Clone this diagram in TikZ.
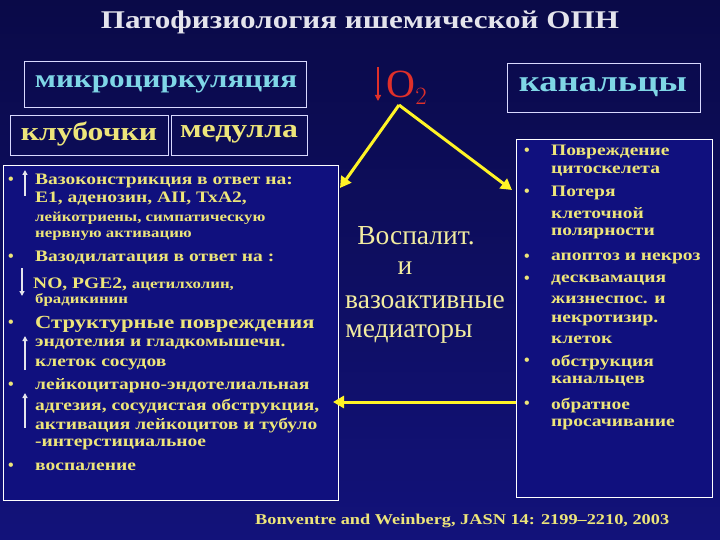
\documentclass[tikz,border=0pt]{standalone}
\usepackage{fontspec}
\setmainfont{Liberation Serif}[FakeStretch=1.22]
\newfontfamily\plainf{Liberation Serif}
\usetikzlibrary{arrows.meta}
\definecolor{bgA}{HTML}{0A0A48}
\definecolor{bgB}{HTML}{12127A}
\definecolor{boxfill}{HTML}{10107E}
\definecolor{ytxt}{HTML}{EDE57A}
\definecolor{ctxt}{HTML}{7FD6E6}
\definecolor{lyel}{HTML}{F2ECA0}
\definecolor{o2red}{HTML}{E0302A}
\definecolor{ttl}{HTML}{E4E4EC}
\tikzset{
  hdr/.style={draw=white!85!blue, line width=0.8pt, inner sep=0pt},
  bigbox/.style={draw=white, line width=0.9pt, fill=boxfill},
  ln/.style={anchor=west, inner sep=0pt, text=ytxt, font=\bfseries\fontsize{16}{16}\selectfont},
  lns/.style={ln, font=\bfseries\fontsize{13.8}{14}\selectfont},
  bul/.style={anchor=center, inner sep=0pt, text=ytxt, font=\plainf\bfseries\fontsize{16}{16}\selectfont},
  mid/.style={text=lyel, font=\plainf\fontsize{27.5}{27}\selectfont, inner sep=0pt},
  conn/.style={draw=yellow!85!white, line width=3pt, -{Triangle[length=11pt,width=12pt]}},
  upar/.style={draw=ttl, line width=1.2pt, -{Triangle[length=5pt,width=5pt]}}
}
\begin{document}
\begin{tikzpicture}[x=1pt,y=-1pt]
\shade[top color=bgA, bottom color=bgB] (0,0) rectangle (720,540);
\useasboundingbox (0,0) rectangle (720,540);
% title
\node[text=ttl, font=\bfseries\fontsize{25.5}{26}\selectfont] (title) at (360,22) {Патофизиология ишемической ОПН};
% header boxes
\draw[hdr] (24,61) rectangle (306,107);
\node[text=ctxt, font=\bfseries\fontsize{25.5}{26}\selectfont] (micro) at (166,84) {микроциркуляция};
\draw[hdr] (10,115) rectangle (168,155);
\node[text=ytxt, font=\bfseries\fontsize{26}{26}\selectfont] (glom) at (89,134) {клубочки};
\draw[hdr] (171,115) rectangle (307,155);
\node[text=ytxt, font=\bfseries\fontsize{26}{26}\selectfont] (med) at (239,134) {медулла};
\draw[hdr] (507,63) rectangle (700,112);
\node[text=ctxt, font=\bfseries\fontsize{30}{30}\selectfont] (kan) at (603,87) {канальцы};
% O2
\node[text=o2red, font=\plainf\fontsize{40}{40}\selectfont, inner sep=0pt] (o2) at (407,88) {O$_2$};
\coordinate (o2a) at (378,67);
\coordinate (o2b) at (378,101);
\draw[draw=o2red, line width=1.3pt, -{Triangle[length=6pt,width=6pt]}] (o2a) -- (o2b);
% big boxes
\draw[bigbox] (3,165) rectangle (338,500);
\draw[bigbox] (516,139) rectangle (712,497);
% connectors
\coordinate (apex) at (399,105);
\coordinate (lt) at (340,188);
\coordinate (rt) at (512,190);
\coordinate (rs) at (516,402);
\coordinate (le) at (333,402);
\draw[conn] (apex) -- (lt);
\draw[conn] (apex) -- (rt);
\draw[conn] (rs) -- (le);
% middle text
\node[mid] (m1) at (416,236) {Воспалит.};
\node[mid] (m2) at (405,268) {и};
\node[mid] (m3) at (425,302) {вазоактивные};
\node[mid] (m4) at (409,334) {медиаторы};
% left box
\node[bul] (b1) at (11,181) {•};
\node[bul] (b2) at (11,258) {•};
\node[bul] (b3) at (11,324) {•};
\node[bul] (b4) at (11,386) {•};
\node[bul] (b5) at (11,467) {•};
\draw[upar] (25,196) -- (25,170);
\draw[upar] (22,268) -- (22,296);
\draw[upar] (25,370) -- (25,336);
\draw[upar] (25,428) -- (25,393);
\node[ln] (l1) at (35,181) {Вазоконстрикция в ответ на:};
\node[ln] (l2) at (35,199) {Е1, аденозин, АII, ТхА2,};
\node[lns] (l3) at (35,218) {лейкотриены, симпатическую};
\node[lns] (l4) at (35,236) {нервную активацию};
\node[ln] (l5) at (35,258) {Вазодилатация в ответ на :};
\node[ln] (l6) at (33,284) {NO, PGE2, {\fontsize{13.8}{14}\selectfont ацетилхолин,}};
\node[lns] (l7) at (35,300) {брадикинин};
\node[ln, font=\bfseries\fontsize{18.5}{19}\selectfont] (l8) at (35,324) {Структурные повреждения};
\node[ln] (l9) at (35,344) {эндотелия и гладкомышечн.};
\node[ln] (l10) at (35,364) {клеток сосудов};
\node[ln] (l11) at (35,386) {лейкоцитарно-эндотелиальная};
\node[ln] (l12) at (35,406) {адгезия, сосудистая обструкция,};
\node[ln] (l13) at (35,425) {активация лейкоцитов и тубуло};
\node[ln] (l14) at (35,444) {-интерстициальное};
\node[ln] (l15) at (35,467) {воспаление};
% right box
\node[bul] (r1) at (527,152) {•};
\node[bul] (r2) at (527,193) {•};
\node[bul] (r3) at (527,258) {•};
\node[bul] (r4) at (527,280) {•};
\node[bul] (r5) at (527,362) {•};
\node[bul] (r6) at (527,405) {•};
\node[ln] (t1) at (551,152) {Повреждение};
\node[ln] (t2) at (551,171) {цитоскелета};
\node[ln] (t3) at (551,193) {Потеря};
\node[ln] (t4) at (551,213) {клеточной};
\node[ln] (t5) at (551,233) {полярности};
\node[ln] (t6) at (551,258) {апоптоз и некроз};
\node[ln] (t7) at (551,280) {десквамация};
\node[ln] (t8) at (551,300) {жизнеспос. и};
\node[ln] (t9) at (551,320) {некротизир.};
\node[ln] (t10) at (551,340) {клеток};
\node[ln] (t11) at (551,362) {обструкция};
\node[ln] (t12) at (551,381) {канальцев};
\node[ln] (t13) at (551,405) {обратное};
\node[ln] (t14) at (551,424) {просачивание};
% citation
\node[ln, font=\bfseries\fontsize{15}{15}\selectfont] (cite) at (255,521) {Bonventre and Weinberg, JASN 14: 2199–2210, 2003};
\end{tikzpicture}
\end{document}
